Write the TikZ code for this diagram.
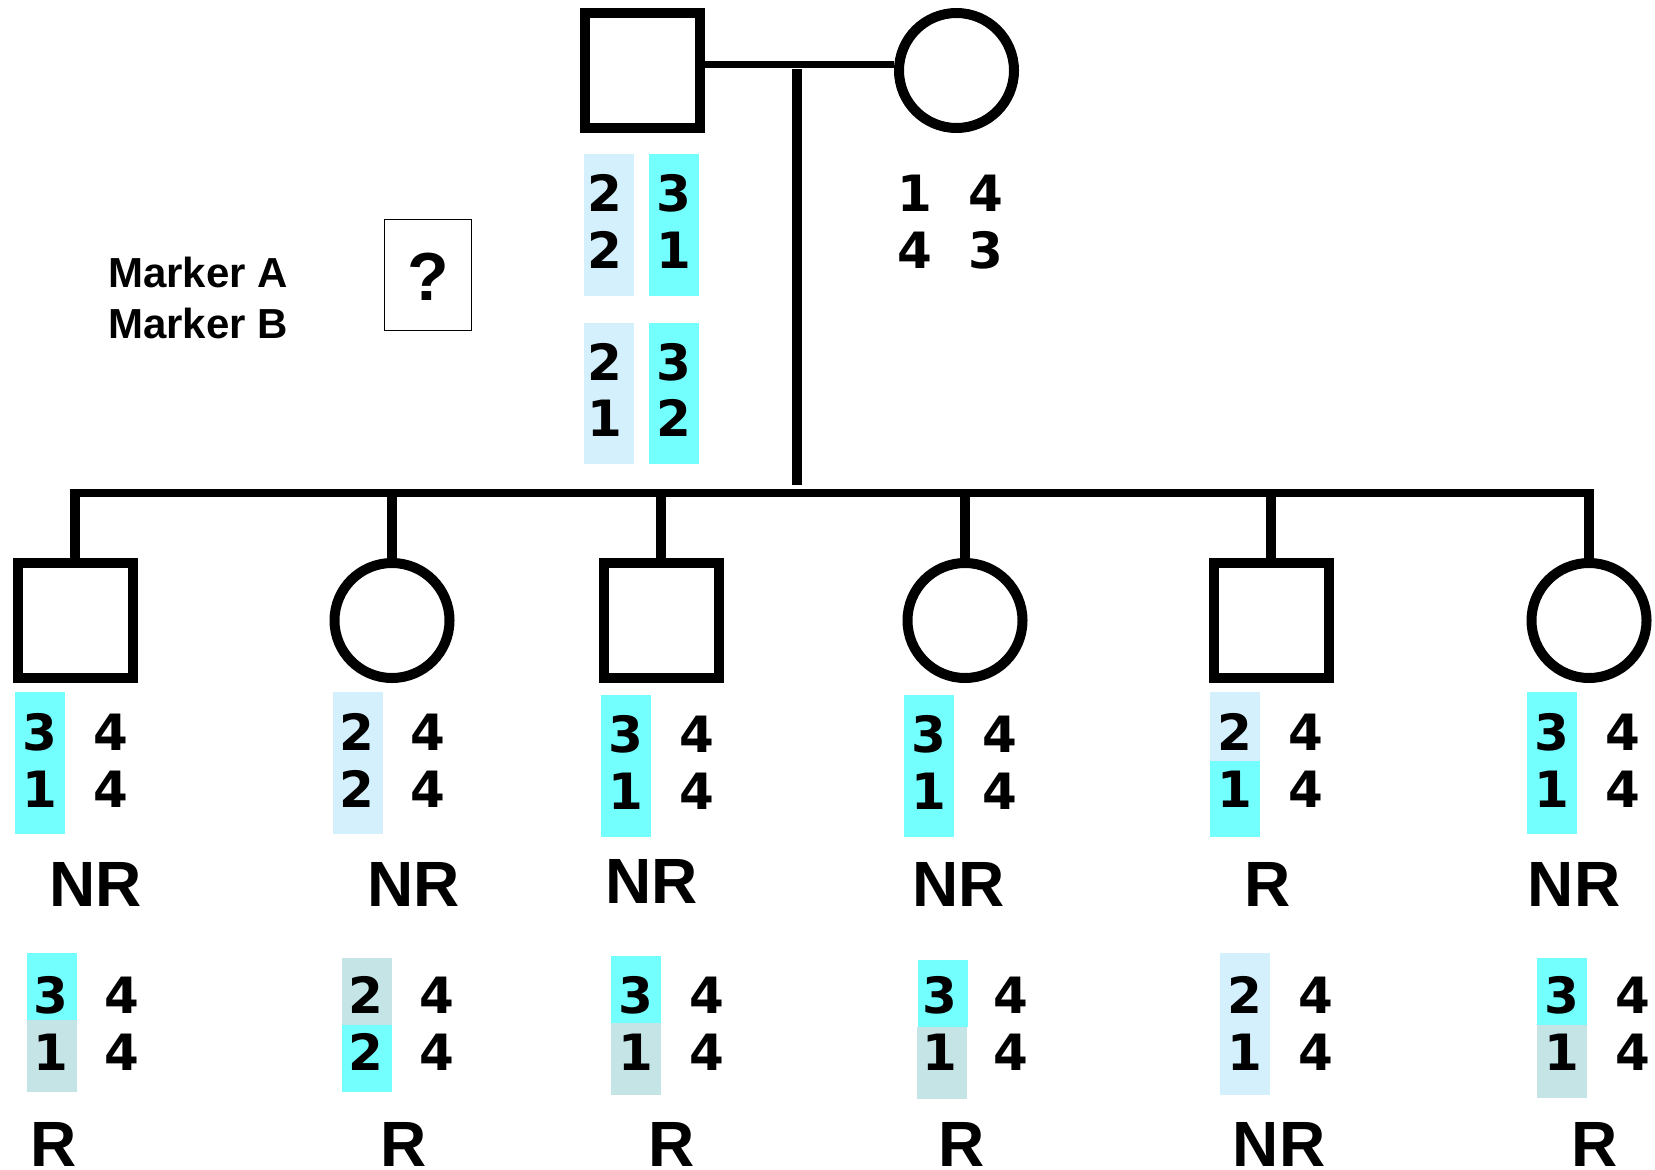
\documentclass[tikz,border=0pt]{standalone}
\usepackage{fontspec}
\setmainfont{Liberation Sans}
\newfontfamily\digitfont{DejaVu Sans}
\definecolor{cyanA}{RGB}{116,255,255}
\definecolor{lblue}{RGB}{212,240,252}
\definecolor{gteal}{RGB}{196,228,230}
\tikzset{
  male/.style={draw, line width=10pt, rectangle, minimum size=115pt, inner sep=0pt},
  female/.style={draw, line width=10pt, circle, minimum size=115pt, inner sep=0pt},
  dig/.style={inner sep=0pt, font=\digitfont\bfseries\fontsize{50}{50}\selectfont},
  lab/.style={inner sep=0pt, anchor=base, font=\bfseries\fontsize{64}{64}\selectfont},
  mk/.style={inner sep=0pt, anchor=base west, font=\bfseries\fontsize{42}{42}\selectfont},
  mline/.style={line width=7pt},
  dline/.style={line width=10pt},
  sline/.style={line width=8pt},
}
\newcommand\gtype[7]{%
  \node[dig] (#1tl) at (#2,#3) {#4};
  \node[dig] (#1tr) at ({#2+71},#3) {#5};
  \node[dig] (#1bl) at (#2,{#3+57}) {#6};
  \node[dig] (#1br) at ({#2+71},{#3+57}) {#7};
}
\begin{document}
\begin{tikzpicture}[x=1pt,y=-1pt]
\useasboundingbox[fill=white] (0,0) rectangle (1655,1170);

% parents
\node[male] (father) at (642.5,70.5) {};
\node[female] (mother) at (956.5,70.5) {};
\draw[mline] ([yshift=6pt]father.east) -- ([yshift=6pt]mother.west);
\coordinate (mtop) at (797,69);
\coordinate (mbot) at (797,485);
\draw[dline] (mtop) -- (mbot);

% father's haplotype boxes
\fill[lblue] (584,154) rectangle (634,296);
\fill[cyanA] (649,154) rectangle (699,296);
\fill[lblue] (584,323) rectangle (634,464);
\fill[cyanA] (649,323) rectangle (699,464);
\node[dig] (f1) at (605,193) {2};
\node[dig] (f2) at (674,193) {3};
\node[dig] (f3) at (605,250) {2};
\node[dig] (f4) at (674,250) {1};
\node[dig] (f5) at (605,362) {2};
\node[dig] (f6) at (674,362) {3};
\node[dig] (f7) at (605,418) {1};
\node[dig] (f8) at (674,418) {2};

% mother's genotype
\gtype{mo}{915}{193}{1}{4}{4}{3}

% markers
\node[mk] (mA) at (108,287) {Marker A};
\node[mk] (mB) at (108,338) {Marker B};
\node[draw, line width=1.6pt, minimum width=87pt, minimum height=111pt, inner sep=0pt] (qbox) at (428,275) {};
\node[inner sep=0pt, font=\bfseries\fontsize{68}{68}\selectfont] (qmark) at (428,277) {?};

% children
\node[male]   (c1) at (75,620.5) {};
\node[female] (c2) at (392,620.5) {};
\node[male]   (c3) at (661,620.5) {};
\node[female] (c4) at (965,620.5) {};
\node[male]   (c5) at (1271,620.5) {};
\node[female] (c6) at (1589,620.5) {};

\coordinate (sib) at (0,493);
\coordinate (sibtop) at (0,489);
\draw[sline] (c1.north |- sib) -- (c6.north |- sib);
\foreach \c in {c1,c2,c3,c4,c5,c6}
  \draw[dline] (\c.north |- sibtop) -- (\c.north);

% upper genotype boxes
\fill[cyanA] (15,692) rectangle (65,834);
\fill[lblue] (333,692) rectangle (383,834);
\fill[cyanA] (601,695) rectangle (651,837);
\fill[cyanA] (904,695) rectangle (954,837);
\fill[lblue] (1210,692) rectangle (1260,761);
\fill[cyanA] (1210,761) rectangle (1260,837);
\fill[cyanA] (1527,692) rectangle (1577,834);

% lower genotype boxes
\fill[cyanA] (27,953) rectangle (77,1020);
\fill[gteal] (27,1020) rectangle (77,1092);
\fill[gteal] (342,958) rectangle (392,1025);
\fill[cyanA] (342,1025) rectangle (392,1092);
\fill[cyanA] (611,956) rectangle (661,1023);
\fill[gteal] (611,1023) rectangle (661,1095);
\fill[cyanA] (918,960) rectangle (968,1027);
\fill[gteal] (917,1027) rectangle (967,1099);
\fill[lblue] (1220,953) rectangle (1270,1095);
\fill[cyanA] (1537,958) rectangle (1587,1025);
\fill[gteal] (1537,1025) rectangle (1587,1098);

% upper genotypes
\gtype{ua}{40}{732}{3}{4}{1}{4}
\gtype{ub}{357}{732}{2}{4}{2}{4}
\gtype{uc}{626}{734}{3}{4}{1}{4}
\gtype{ud}{929}{734}{3}{4}{1}{4}
\gtype{ue}{1235}{732}{2}{4}{1}{4}
\gtype{uf}{1552}{732}{3}{4}{1}{4}

% lower genotypes
\gtype{la}{51}{995}{3}{4}{1}{4}
\gtype{lb}{366}{995}{2}{4}{2}{4}
\gtype{lc}{636}{995}{3}{4}{1}{4}
\gtype{ld}{940}{995}{3}{4}{1}{4}
\gtype{le}{1245}{995}{2}{4}{1}{4}
\gtype{lf}{1562}{995}{3}{4}{1}{4}

% labels
\node[lab] (ra1) at (95.5,906) {NR};
\node[lab] (ra2) at (413.5,906) {NR};
\node[lab] (ra3) at (652,903) {NR};
\node[lab] (ra4) at (959,906) {NR};
\node[lab] (ra5) at (1267.5,906) {R};
\node[lab] (ra6) at (1574,906) {NR};

\node[lab] (rb1) at (54,1166) {R};
\node[lab] (rb2) at (404,1166) {R};
\node[lab] (rb3) at (672,1166) {R};
\node[lab] (rb4) at (961.5,1166) {R};
\node[lab] (rb5) at (1279,1166) {NR};
\node[lab] (rb6) at (1595,1166) {R};
\end{tikzpicture}
\end{document}
